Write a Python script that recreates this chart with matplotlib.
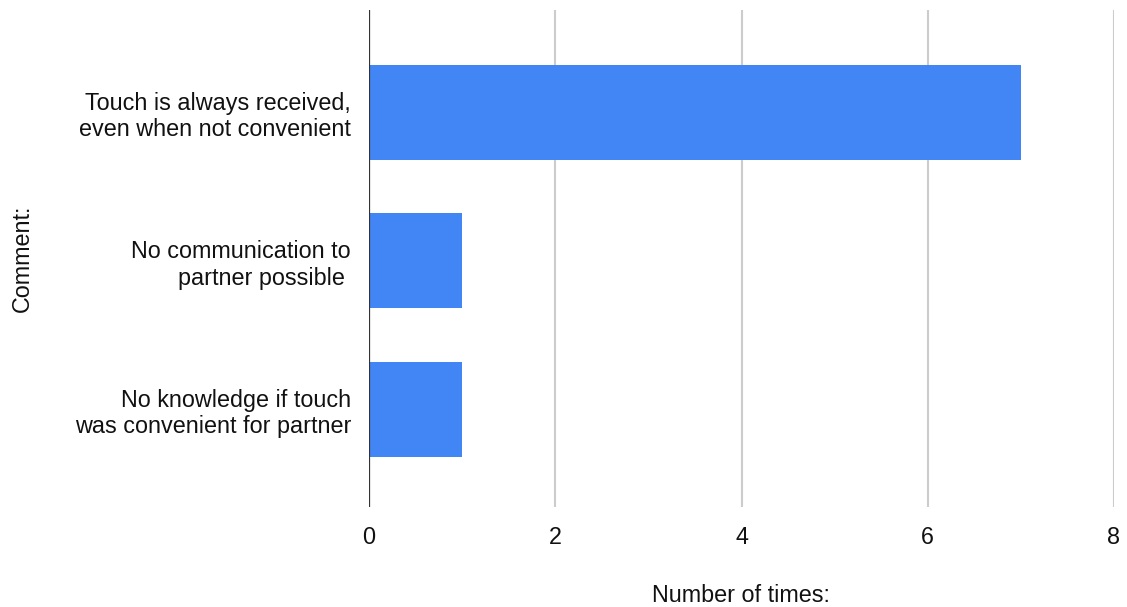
import matplotlib
matplotlib.use('Agg')
import matplotlib.pyplot as plt

comments = ["Touch is always received,\neven when not convenient",
            "No communication to\npartner possible ",
            "No knowledge if touch\nwas convenient for partner"]
counts = [7, 1, 1]
xticks = [0, 2, 4, 6, 8]

plt.rcParams['font.family'] = ['Liberation Sans', 'DejaVu Sans']

fig = plt.figure(figsize=(11.27, 6.07), dpi=100)
ax = fig.add_axes([369/1127, 1-507/607, (1114-369)/1127, 497/607])

ypos = list(range(len(comments)))
ax.barh(ypos, counts, height=0.64, color='#4285f4', zorder=3)

ax.set_xlim(0, 8)
ax.set_ylim(2.66, -0.69)
ax.set_xticks(xticks)
ax.set_xticklabels([str(t) for t in xticks])
ax.set_yticks(ypos)
ax.set_yticklabels(comments)
ax.tick_params(axis='both', length=0, labelsize=16.8, colors='#111111')
ax.tick_params(axis='x', pad=14)
ax.tick_params(axis='y', pad=13)

ax.grid(axis='x', color='#cccccc', linewidth=1.5, zorder=0)
ax.axvline(0, color='#333333', linewidth=1.6, zorder=4)
for s in ax.spines.values():
    s.set_visible(False)

fig.text(741/1127, 1-595/607, "Number of times:", ha='center', va='center',
         fontsize=16.8, color='#111111')
fig.text(22/1127, 1-258/607, "Comment:", ha='center', va='center',
         rotation=90, fontsize=16.8, color='#111111')

fig.savefig('out.png', dpi=100, facecolor='white')
